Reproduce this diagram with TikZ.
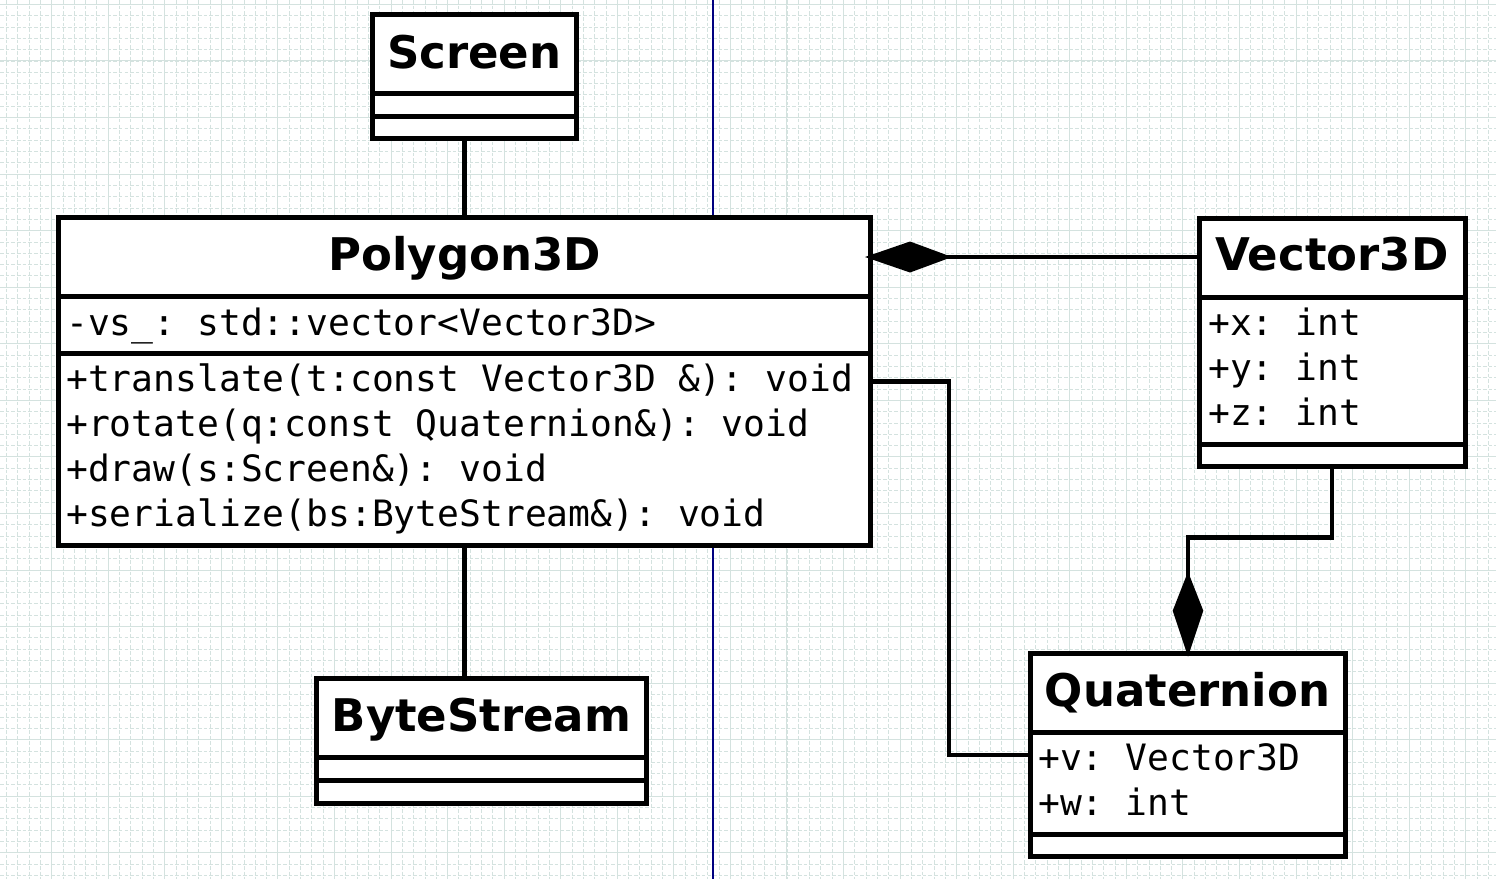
\documentclass[tikz,border=0pt]{standalone}
\usepackage{fontspec}
\setmainfont{DejaVu Sans}
\newfontfamily\umlmono{DejaVu Sans Mono}
\usetikzlibrary{calc}
\definecolor{gridc}{RGB}{212,226,223}
\definecolor{pagec}{RGB}{0,0,128}
\begin{document}
\begin{tikzpicture}[x=1pt,y=-1pt,
  gridminor/.style={draw=gridc, line width=0.9pt, dash pattern=on 3.6pt off 2.06pt},
  gridmajor/.style={draw=gridc, line width=1pt},
  umlclass/.style={rectangle, draw=black, fill=white, line width=5pt, inner sep=0pt, outer sep=0pt, anchor=north west},
  divider/.style={line width=5pt},
  conn/.style={line width=4.6pt},
  compdiamond/.style={fill=black},
  cname/.style={font=\fontsize{45}{54}\selectfont\bfseries, anchor=base, inner sep=0pt},
  cmember/.style={font=\umlmono\fontsize{36.3}{45}\selectfont\frenchspacing, anchor=base west, inner sep=0pt}
]
\useasboundingbox (0,0) rectangle (1496,879);
\fill[white] (0,0) rectangle (1496,879);
% grid
\foreach \i in {0,...,133} {
  \draw[gridminor] ({-4.86+11.312*\i},0) -- ({-4.86+11.312*\i},879);
}
\foreach \i in {0,...,78} {
  \draw[gridminor] (0,{4.4+11.312*\i}) -- (1496,{4.4+11.312*\i});
}
\foreach \i in {0,...,26} {
  \draw[gridmajor] ({-4.86+56.56*\i},0) -- ({-4.86+56.56*\i},879);
}
\foreach \i in {0,...,15} {
  \draw[gridmajor] (0,{4.4+56.56*\i}) -- (1496,{4.4+56.56*\i});
}
% page boundary
\draw[pagec, line width=1.3pt] (713,0) -- (713,879);

% classes
\node[umlclass, minimum width=204pt, minimum height=123.3pt] (screen) at (372.7,14.7) {};
\draw[divider] (372.7,93.3) -- (576.7,93.3);
\draw[divider] (372.7,116) -- (576.7,116);
\node[cname] (screenT) at (474.2,68.3) {Screen};

\node[umlclass, minimum width=811.5pt, minimum height=327.7pt] (poly) at (58.5,217.3) {};
\draw[divider] (58.5,296.7) -- (870,296.7);
\draw[divider] (58.5,353.3) -- (870,353.3);
\node[cname] (polyT) at (464.8,270) {Polygon3D};
\node[cmember] (polyA) at (66,335) {-vs\_: std::vector<Vector3D>};
\node[cmember] (polyM1) at (66,391.5) {+translate(t:const Vector3D \&): void};
\node[cmember] (polyM2) at (66,436.5) {+rotate(q:const Quaternion\&): void};
\node[cmember] (polyM3) at (66,481.5) {+draw(s:Screen\&): void};
\node[cmember] (polyM4) at (66,526.5) {+serialize(bs:ByteStream\&): void};

\node[umlclass, minimum width=265.7pt, minimum height=247.7pt] (vec) at (1199.3,218.3) {};
\draw[divider] (1199.3,297.3) -- (1465,297.3);
\draw[divider] (1199.3,444.3) -- (1465,444.3);
\node[cname] (vecT) at (1332,270) {Vector3D};
\node[cmember] (vecX) at (1208,335) {+x: int};
\node[cmember] (vecY) at (1208,380) {+y: int};
\node[cmember] (vecZ) at (1208,425) {+z: int};

\node[umlclass, minimum width=314.6pt, minimum height=202.7pt] (quat) at (1030.7,653.3) {};
\draw[divider] (1030.7,732.3) -- (1345.3,732.3);
\draw[divider] (1030.7,834) -- (1345.3,834);
\node[cname] (quatT) at (1187.5,706.7) {Quaternion};
\node[cmember] (quatV) at (1038,770) {+v: Vector3D};
\node[cmember] (quatW) at (1038,815) {+w: int};

\node[umlclass, minimum width=329.3pt, minimum height=125pt] (bytes) at (316.7,678.3) {};
\draw[divider] (316.7,757.3) -- (646,757.3);
\draw[divider] (316.7,780) -- (646,780);
\node[cname] (bytesT) at (481.5,731) {ByteStream};

% connectors
\coordinate (compA) at (870,257);
\coordinate (bendA) at (949,381.5);
\coordinate (bendB) at (949,755);
\coordinate (bendC) at (1188,537.7);

\draw[conn] (screen.south -| poly.north) -- (poly.north);
\draw[conn] (poly.south) -- (poly.south |- bytes.north);
\draw[conn] (vec.west |- compA) -- (poly.east |- compA);
\draw[conn] (poly.east |- bendA) -- (bendA) -- (bendB) -- (quat.west |- bendB);
\draw[conn] (vec.south) -- (vec.south |- bendC) -- (bendC) -- (quat.north);

% composition diamonds
\coordinate (dA) at (poly.east |- compA);
\fill[compdiamond] ($(dA)+(-5,0)$) -- ($(dA)+(40,-15.5)$) -- ($(dA)+(82,0)$) -- ($(dA)+(40,15.5)$) -- cycle;
\coordinate (dB) at (quat.north);
\fill[compdiamond] ($(dB)+(0,3.4)$) -- ($(dB)+(15.3,-42.6)$) -- ($(dB)+(0,-81.6)$) -- ($(dB)+(-15.3,-42.6)$) -- cycle;
\end{tikzpicture}
\end{document}
